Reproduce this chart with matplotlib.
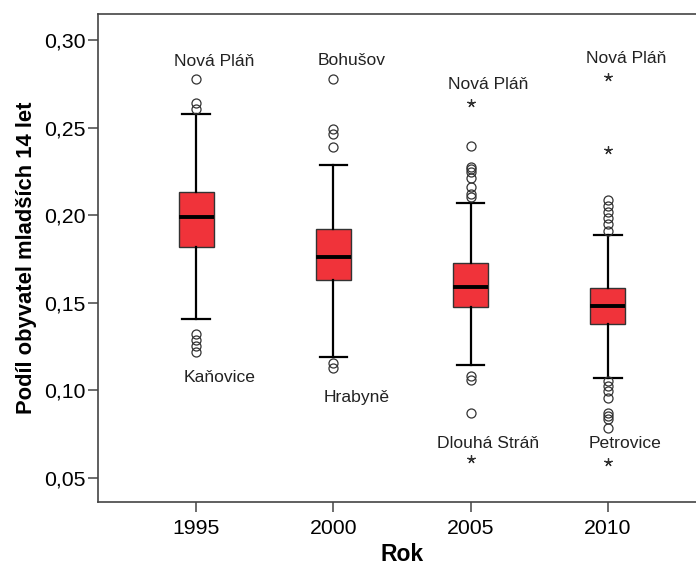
import matplotlib
matplotlib.use("Agg")
import matplotlib.pyplot as plt

plt.rcParams['font.family'] = ['Liberation Sans', 'DejaVu Sans']

# data
roky = ["1995", "2000", "2005", "2010"]
median = [0.1991, 0.1763, 0.1588, 0.1480]
q1 = [0.1820, 0.1628, 0.1478, 0.1377]
q3 = [0.2132, 0.1920, 0.1725, 0.1586]
whisker_low = [0.1406, 0.1191, 0.1143, 0.1073]
whisker_high = [0.2579, 0.2287, 0.2068, 0.1885]
odlehle = [
    [0.2776, 0.2639, 0.2604, 0.1322, 0.1286, 0.1253, 0.1221],
    [0.2779, 0.2490, 0.2465, 0.2389, 0.1156, 0.1130],
    [0.2395, 0.2275, 0.2262, 0.2247, 0.2211, 0.2161, 0.2119, 0.2104,
     0.1082, 0.1058, 0.0873],
    [0.2085, 0.2053, 0.2020, 0.1986, 0.1948, 0.1910,
     0.1054, 0.1025, 0.0997, 0.0958, 0.0873, 0.0854, 0.0835, 0.0787],
]
extremni = [[], [], [0.2642, 0.0607], [0.2789, 0.2374, 0.0593]]

popisky_horni = ["Nová Pláň", "Bohušov", "Nová Pláň", "Nová Pláň"]
popisky_dolni = ["Kaňovice", "Hrabyně", "Dlouhá Stráň", "Petrovice"]
hodnota_horni = [0.2776, 0.2779, 0.2642, 0.2789]
hodnota_dolni = [0.1221, 0.1130, 0.0593, 0.0593]

fig = plt.figure(figsize=(6.96, 5.68), dpi=100)
ax = fig.add_axes([0.1408, 0.1162, 0.8736, 0.8592])

pozice = [1, 2, 3, 4]
stats = []
for i in range(4):
    stats.append({
        "med": median[i], "q1": q1[i], "q3": q3[i],
        "whislo": whisker_low[i], "whishi": whisker_high[i],
        "fliers": odlehle[i], "label": roky[i],
    })

ax.bxp(stats, positions=pozice, widths=0.255, patch_artist=True,
       boxprops=dict(facecolor="#f0333a", edgecolor="#333333", linewidth=1.0),
       medianprops=dict(color="black", linewidth=2.8),
       whiskerprops=dict(color="black", linewidth=1.6),
       capprops=dict(color="black", linewidth=1.6),
       capwidths=0.2,
       flierprops=dict(marker="o", markersize=6.5, markerfacecolor="none",
                       markeredgecolor="#333333", markeredgewidth=0.9))

for i in range(4):
    if extremni[i]:
        ax.plot([pozice[i]] * len(extremni[i]), extremni[i], linestyle="none",
                marker=(5, 2, 0), markersize=6, color="#333333",
                markeredgewidth=0.9)

# popisky extremnich pripadu
for i in range(4):
    ax.annotate(popisky_horni[i], (pozice[i], hodnota_horni[i]),
                xytext=(18, 18), textcoords="offset pixels",
                ha="center", va="center", fontsize=12.6, color="#222222")
dolni_posun = [(24, -26), (23, -30), (17, 18), (17, 18)]
for i in range(4):
    ax.annotate(popisky_dolni[i], (pozice[i], hodnota_dolni[i]),
                xytext=dolni_posun[i], textcoords="offset pixels",
                ha="center", va="center", fontsize=12.6, color="#222222")

ax.set_xlim(1 - 0.714, 4 + 0.714)
ax.set_ylim(0.0363, 0.3148)
ax.set_yticks([0.05, 0.10, 0.15, 0.20, 0.25, 0.30])
ax.set_yticklabels(["0,05", "0,10", "0,15", "0,20", "0,25", "0,30"])
ax.set_xticks(pozice)
ax.set_xticklabels(roky)

for s in ax.spines.values():
    s.set_color("#444444")
    s.set_linewidth(1.2)
ax.tick_params(direction="out", length=7, width=1.1, color="#444444",
               labelsize=15.3, pad=2)
ax.tick_params(axis="x", pad=5)

ax.set_xlabel("Rok", fontsize=16.5, fontweight="bold", labelpad=4)
ax.set_ylabel("Podíl obyvatel mladších 14 let", fontsize=15.8,
              fontweight="bold", labelpad=5)

fig.savefig("out.png", dpi=100)
